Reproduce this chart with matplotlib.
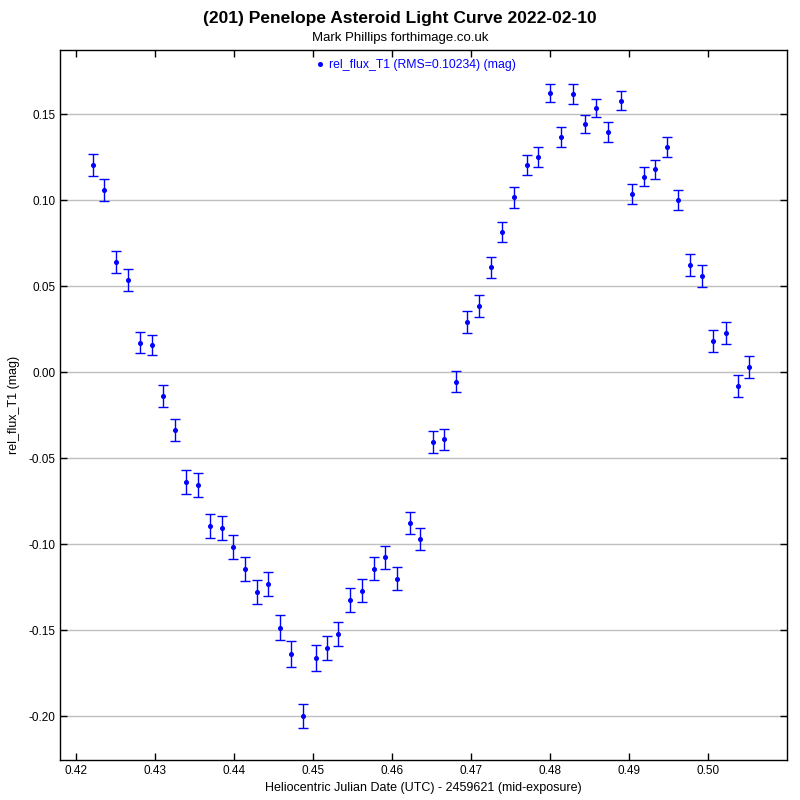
import matplotlib
matplotlib.use("Agg")
import matplotlib.pyplot as plt
from matplotlib.ticker import FormatStrFormatter, MultipleLocator
from matplotlib.lines import Line2D

plt.rcParams['font.family'] = ['Liberation Sans', 'DejaVu Sans']
plt.rcParams['axes.unicode_minus'] = False

hjd = [0.42215, 0.42354, 0.42506, 0.42658, 0.4281, 0.4296, 0.4310, 0.4325, 0.4339, 0.4354,
       0.4370, 0.4385, 0.4399, 0.4414, 0.4429, 0.4443, 0.4458, 0.4472, 0.4487, 0.4503,
       0.4518, 0.4532, 0.4547, 0.4562, 0.4577, 0.4591, 0.4606, 0.4622, 0.4635, 0.4651,
       0.4666, 0.4681, 0.4695, 0.4710, 0.4725, 0.4739, 0.4754, 0.4770, 0.4785, 0.4799,
       0.4814, 0.4829, 0.4844, 0.4858, 0.4873, 0.4889, 0.4903, 0.4918, 0.4933, 0.4948,
       0.4962, 0.4977, 0.4992, 0.5006, 0.5022, 0.5037, 0.5051]
rel_flux = [0.1203, 0.1058, 0.0640, 0.0535, 0.0169, 0.0157, -0.0140, -0.0337, -0.0640, -0.0657,
            -0.0895, -0.0907, -0.1017, -0.1145, -0.1279, -0.1233, -0.1488, -0.1640, -0.2000, -0.1663,
            -0.1605, -0.1523, -0.1326, -0.1273, -0.1145, -0.1076, -0.1203, -0.0878, -0.0971, -0.0407,
            -0.0390, -0.0058, 0.0291, 0.0384, 0.0610, 0.0814, 0.1017, 0.1203, 0.1250, 0.1622,
            0.1366, 0.1616, 0.1442, 0.1535, 0.1395, 0.1576, 0.1035, 0.1134, 0.1180, 0.1308,
            0.1000, 0.0622, 0.0558, 0.0180, 0.0227, -0.0081, 0.0029]
err = [0.0064, 0.0065, 0.0065, 0.0064, 0.0061, 0.0061, 0.0065, 0.0066, 0.0068, 0.0067,
       0.0070, 0.0070, 0.0070, 0.0070, 0.0070, 0.0070, 0.0073, 0.0075, 0.0070, 0.0073,
       0.0070, 0.0070, 0.0070, 0.0067, 0.0067, 0.0067, 0.0067, 0.0063, 0.0064, 0.0064,
       0.0061, 0.0061, 0.0065, 0.0062, 0.0061, 0.0061, 0.0061, 0.0058, 0.0061, 0.0055,
       0.0058, 0.0058, 0.0055, 0.0055, 0.0058, 0.0055, 0.0058, 0.0055, 0.0055, 0.0058,
       0.0058, 0.0062, 0.0062, 0.0062, 0.0064, 0.0065, 0.0065]

title = "(201) Penelope Asteroid Light Curve 2022-02-10"
subtitle = "Mark Phillips forthimage.co.uk"
series_label = "rel_flux_T1 (RMS=0.10234) (mag)"
xlabel = "Heliocentric Julian Date (UTC) - 2459621 (mid-exposure)"
ylabel = "rel_flux_T1 (mag)"

fig = plt.figure(figsize=(8, 8), dpi=100)
ax = fig.add_axes([0.075, 0.05, 0.9088, 0.8875])

ax.errorbar(hjd, rel_flux, yerr=err, fmt='o', color='#0000ff', ecolor='#0000ff',
            markersize=2.6, elinewidth=1, capsize=3.5, capthick=1, zorder=3)

ax.set_xlim(0.41797, 0.50995)
ax.set_ylim(-0.22558, 0.18721)
ax.xaxis.set_major_locator(MultipleLocator(0.01))
ax.yaxis.set_major_locator(MultipleLocator(0.05))
ax.xaxis.set_major_formatter(FormatStrFormatter('%.2f'))
ax.yaxis.set_major_formatter(FormatStrFormatter('%.2f'))
ax.tick_params(direction='in', length=5, width=1, top=True, right=True, labelsize=8.5, colors='black')
ax.yaxis.grid(True, color='#c0c0c0', linewidth=1)
ax.set_axisbelow(True)
for s in ax.spines.values():
    s.set_linewidth(1)

ax.set_xlabel(xlabel, fontsize=9, labelpad=4)
ax.set_ylabel(ylabel, fontsize=9, labelpad=6)

fig.text(0.5, 0.977, title, ha='center', va='center', fontsize=12.5, fontweight='bold')
fig.text(0.5, 0.953, subtitle, ha='center', va='center', fontsize=9.5)

handle = Line2D([], [], linestyle='none', marker='o', markersize=2.6, color='#0000ff')
leg = ax.legend([handle], [series_label], loc='upper center', bbox_to_anchor=(0.488, 1.0),
                frameon=False, fontsize=8.8, handletextpad=0.3, handlelength=1.0,
                borderaxespad=0.35)
for t in leg.get_texts():
    t.set_color('#0000ff')

fig.savefig('out.png', dpi=100)
